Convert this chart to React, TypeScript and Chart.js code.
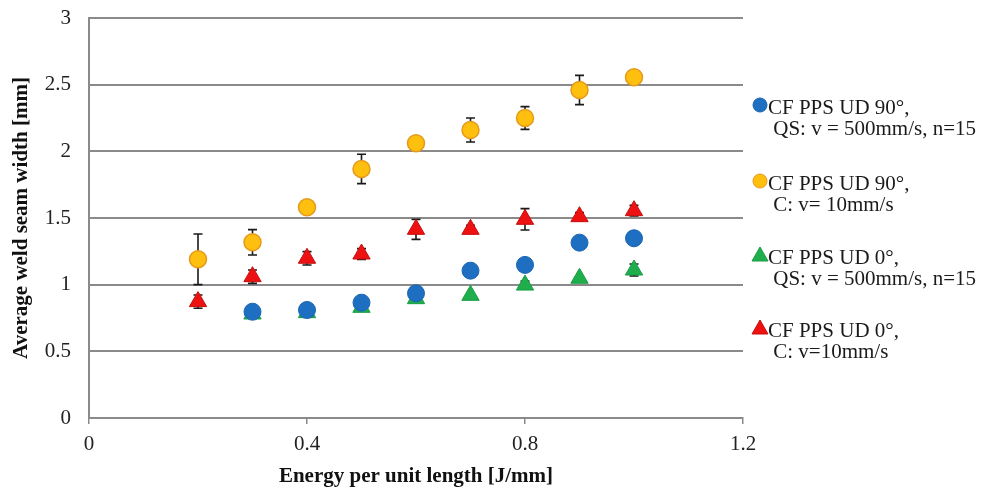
import React, { useEffect, useRef } from "react";
import { Chart, registerables } from "chart.js";

Chart.register(...registerables);

// ---- data ----
const energy = [0.2, 0.3, 0.4, 0.5, 0.6, 0.7, 0.8, 0.9, 1.0];

const qs90Label = ["CF PPS UD 90°,", " QS: v = 500mm/s, n=15"];
const qs90Values = [null, 0.797, 0.81, 0.865, 0.935, 1.105, 1.148, 1.315, 1.348];
const qs90Errors = [0, 0.02, 0.02, 0.02, 0.02, 0.03, 0.02, 0.02, 0.04];

const c90Label = ["CF PPS UD 90°,", " C: v= 10mm/s"];
const c90Values = [1.19, 1.318, 1.58, 1.868, 2.06, 2.16, 2.25, 2.46, 2.555];
const c90Errors = [0.19, 0.095, 0.02, 0.11, 0.02, 0.09, 0.085, 0.11, 0.035];

const qs0Label = ["CF PPS UD 0°,", " QS: v = 500mm/s, n=15"];
const qs0Values = [null, 0.78, 0.79, 0.83, 0.895, 0.92, 0.997, 1.048, 1.11];
const qs0Errors = [0, 0.01, 0.01, 0.01, 0.01, 0.01, 0.03, 0.01, 0.045];

const c0Label = ["CF PPS UD 0°,", " C: v=10mm/s"];
const c0Values = [0.873, 1.06, 1.198, 1.23, 1.415, 1.415, 1.49, 1.51, 1.555];
const c0Errors = [0.05, 0.05, 0.05, 0.04, 0.075, 0.03, 0.08, 0.03, 0.04];

const xTicks = [0, 0.4, 0.8, 1.2];
const yTicks = [0, 0.5, 1, 1.5, 2, 2.5, 3];

const xTitle = "Energy per unit length [J/mm]";
const yTitle = "Average weld seam width [mm]";

const FONT = "'Liberation Serif', 'Times New Roman', serif";

const toPoints = (vals: (number | null)[]) =>
  energy.map((x, i) => ({ x, y: vals[i] })).filter((p) => p.y !== null);
const toErrs = (vals: (number | null)[], errs: number[]) =>
  energy
    .map((x, i) => ({ x, y: vals[i], e: errs[i] }))
    .filter((p) => p.y !== null);

const errorBarPlugin = {
  id: "errorBars",
  beforeDatasetsDraw(chart: any) {
    const { ctx, scales } = chart;
    const xs = scales.x;
    const ys = scales.y;
    ctx.save();
    ctx.strokeStyle = "#1a1a1a";
    ctx.lineWidth = 1.6;
    chart.data.datasets.forEach((ds: any) => {
      (ds.errors || []).forEach((p: any) => {
        if (!p.e) return;
        const px = xs.getPixelForValue(p.x);
        const top = ys.getPixelForValue(p.y + p.e);
        const bot = ys.getPixelForValue(p.y - p.e);
        ctx.beginPath();
        ctx.moveTo(px, top);
        ctx.lineTo(px, bot);
        ctx.moveTo(px - 4.5, top);
        ctx.lineTo(px + 4.5, top);
        ctx.moveTo(px - 4.5, bot);
        ctx.lineTo(px + 4.5, bot);
        ctx.stroke();
      });
    });
    ctx.restore();
  },
};

const legendPlugin = {
  id: "sideLegend",
  afterDraw(chart: any) {
    const { ctx } = chart;
    const entryY = [105, 181, 255, 328];
    ctx.save();
    ctx.font = `21px ${FONT}`;
    ctx.fillStyle = "#1a1a1a";
    ctx.textBaseline = "middle";
    ctx.textAlign = "left";
    chart.data.datasets.forEach((ds: any, i: number) => {
      const cy = entryY[i];
      const mx = 760;
      ctx.fillStyle = ds.backgroundColor;
      ctx.strokeStyle = ds.borderColor;
      ctx.lineWidth = 1;
      ctx.beginPath();
      if (ds.pointStyle === "triangle") {
        ctx.moveTo(mx, cy - 8);
        ctx.lineTo(mx + 8, cy + 6);
        ctx.lineTo(mx - 8, cy + 6);
        ctx.closePath();
      } else {
        ctx.arc(mx, cy, 7, 0, Math.PI * 2);
      }
      ctx.fill();
      ctx.stroke();
      ctx.fillStyle = "#1a1a1a";
      const lines: string[] = ds.label.split("\n");
      lines.forEach((t, j) => {
        ctx.fillText(t, 768, cy + 3 + j * 21);
      });
    });
    ctx.restore();
  },
};

export default function App() {
  const ref = useRef<HTMLCanvasElement | null>(null);

  useEffect(() => {
    document.body.style.margin = "0";
    const canvas = ref.current!;
    const chart = new Chart(canvas, {
      type: "scatter",
      data: {
        datasets: [
          {
            label: qs90Label.join("\n"),
            data: toPoints(qs90Values),
            errors: toErrs(qs90Values, qs90Errors),
            backgroundColor: "#1e6fc2",
            borderColor: "#1a64b0",
            pointStyle: "circle",
            pointRadius: 8.5,
            borderWidth: 1,
            order: 1,
          } as any,
          {
            label: c90Label.join("\n"),
            data: toPoints(c90Values),
            errors: toErrs(c90Values, c90Errors),
            backgroundColor: "#ffbf0f",
            borderColor: "#e59a1c",
            pointStyle: "circle",
            pointRadius: 8.5,
            borderWidth: 1.5,
            order: 3,
          } as any,
          {
            label: qs0Label.join("\n"),
            data: toPoints(qs0Values),
            errors: toErrs(qs0Values, qs0Errors),
            backgroundColor: "#1fae4c",
            borderColor: "#1a9c44",
            pointStyle: "triangle",
            pointRadius: 10,
            borderWidth: 1,
            order: 2,
          } as any,
          {
            label: c0Label.join("\n"),
            data: toPoints(c0Values),
            errors: toErrs(c0Values, c0Errors),
            backgroundColor: "#ee1111",
            borderColor: "#c41010",
            pointStyle: "triangle",
            pointRadius: 10,
            borderWidth: 1,
            order: 4,
          } as any,
        ],
      },
      options: {
        animation: false,
        responsive: false,
        maintainAspectRatio: false,
        layout: { padding: { left: 0, right: 238, top: 18, bottom: 0 } },
        plugins: {
          legend: { display: false },
          tooltip: { enabled: false },
        },
        scales: {
          x: {
            type: "linear",
            min: 0,
            max: 1.2,
            afterBuildTicks: (s: any) => {
              s.ticks = xTicks.map((v) => ({ value: v }));
            },
            afterFit: (s: any) => {
              s.height = 70;
            },
            ticks: {
              callback: (v: any) => String(Math.round(Number(v) * 10) / 10),
              font: { family: FONT, size: 21 },
              color: "#222",
              padding: 8,
              maxRotation: 0,
            },
            grid: {
              drawOnChartArea: false,
              drawTicks: true,
              tickLength: 6,
              color: "#8a8a8a",
              lineWidth: 1.5,
            },
            border: { color: "#8a8a8a", width: 2 },
            title: {
              display: true,
              text: xTitle,
              font: { family: FONT, size: 21, weight: "bold", lineHeight: 1.05 },
              color: "#111",
              padding: { top: 0, bottom: 0 },
            },
          },
          y: {
            type: "linear",
            min: 0,
            max: 3,
            afterBuildTicks: (s: any) => {
              s.ticks = yTicks.map((v) => ({ value: v }));
            },
            afterFit: (s: any) => {
              s.width = 89;
              s.paddingTop = 0;
              s.paddingBottom = 0;
            },
            ticks: {
              callback: (v: any) => String(v),
              font: { family: FONT, size: 21 },
              color: "#222",
              padding: 18,
            },
            grid: {
              drawTicks: false,
              color: "#8a8a8a",
              lineWidth: 2,
            },
            border: { color: "#8a8a8a", width: 2 },
            title: {
              display: true,
              text: yTitle,
              font: { family: FONT, size: 21, weight: "bold" },
              color: "#111",
              padding: { top: 9, bottom: 0 },
            },
          },
        },
      } as any,
      plugins: [errorBarPlugin, legendPlugin],
    });
    return () => chart.destroy();
  }, []);

  return (
    <div style={{ position: "absolute", left: 0, top: 0, width: 981, height: 488, background: "#fff" }}>
      <canvas ref={ref} width={981} height={488} style={{ width: 981, height: 488, display: "block" }} />
    </div>
  );
}
